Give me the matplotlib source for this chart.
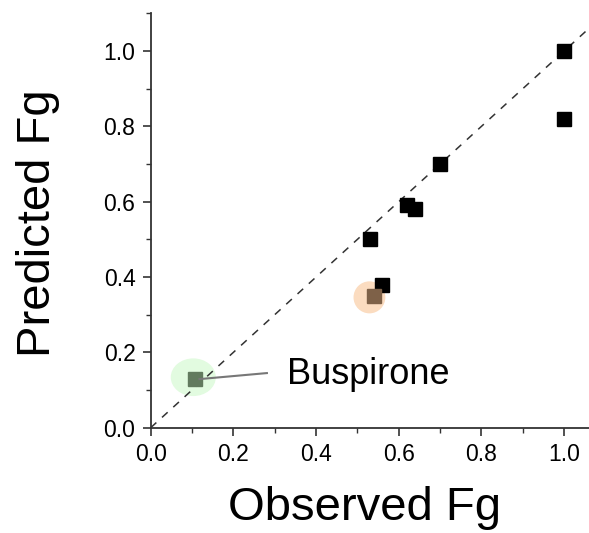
import matplotlib
matplotlib.use("Agg")
import matplotlib.pyplot as plt
from matplotlib.patches import Ellipse
from matplotlib.ticker import MultipleLocator

plt.rcParams['font.family'] = ['Liberation Sans', 'DejaVu Sans']

# Data
observed = [0.53, 0.56, 0.62, 0.64, 0.70, 1.00, 1.00]
predicted = [0.50, 0.38, 0.59, 0.58, 0.70, 1.00, 0.82]
busp_obs, busp_pred = 0.108, 0.129
hl_obs, hl_pred = 0.539, 0.350
label_text = "Buspirone"
tick_vals = [0.0, 0.2, 0.4, 0.6, 0.8, 1.0]
tick_labels = ['0.0', '0.2', '0.4', '0.6', '0.8', '1.0']

fig = plt.figure(figsize=(5.89, 5.33), dpi=100)
ax = fig.add_axes([150.7/589, 1-427.7/533, (589-150.7)/589, (427.7-13.3)/533])

ax.set_xlim(0, 1.06)
ax.set_ylim(0, 1.1)

# identity line
ax.plot([0, 1.2], [0, 1.2], linestyle=(0, (5, 5)), color='#333333', lw=1.1, zorder=1)

# highlight ellipses
ax.add_patch(Ellipse((0.103, 0.134), 0.109, 0.100, facecolor='#e2fbe0', edgecolor='none', zorder=0))
ax.add_patch(Ellipse((0.529, 0.346), 0.077, 0.085, facecolor='#fbdcc0', edgecolor='none', zorder=0))

ax.plot(observed, predicted, linestyle='none', marker='s', markersize=10,
        color='black', zorder=3)
ax.plot([busp_obs], [busp_pred], linestyle='none', marker='s', markersize=10,
        color='#627a5e', zorder=3)
ax.plot([hl_obs], [hl_pred], linestyle='none', marker='s', markersize=10,
        color='#7e6148', zorder=3)

# leader line and label
ax.plot([busp_obs + 0.01, 0.281], [busp_pred, 0.145], color='#777777', lw=1.5, zorder=4)
ax.text(0.33, 0.14, label_text, fontsize=26, va='center', ha='left')

for s in ['top', 'right']:
    ax.spines[s].set_visible(False)
for s in ['left', 'bottom']:
    ax.spines[s].set_color('#333333')
    ax.spines[s].set_linewidth(1.3)

ax.xaxis.set_minor_locator(MultipleLocator(0.1))
ax.yaxis.set_minor_locator(MultipleLocator(0.1))
ax.set_xticks(tick_vals)
ax.set_yticks(tick_vals)
ax.set_xticklabels(tick_labels)
ax.set_yticklabels(tick_labels)
ax.tick_params(which='major', direction='out', length=6, width=1.2, color='#333333',
               labelsize=16.5, pad=5)
ax.tick_params(which='minor', direction='out', length=3.5, width=1.0, color='#333333')

fig.text(365/589, 1-520/533, 'Observed Fg', fontsize=34, ha='center', va='baseline')
fig.text(38/589, 1-223/533, 'Predicted Fg', fontsize=34, ha='center', va='center', rotation=90)

fig.savefig('out.png', dpi=100)
